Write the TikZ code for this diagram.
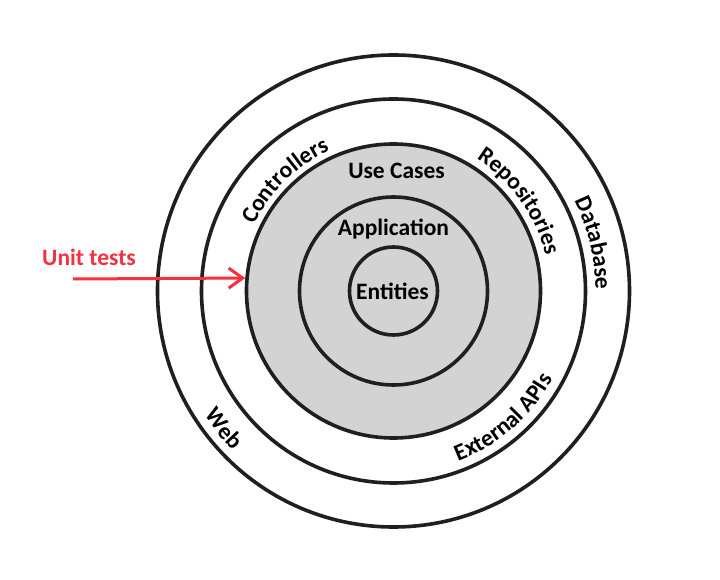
\documentclass[tikz,border=0pt]{standalone}
\usepackage{fontspec}
\setmainfont{Carlito}
\usepackage{xcolor}
\usepackage{tikz}
\usetikzlibrary{arrows.meta, decorations.text}

\definecolor{testred}{HTML}{F5303F}
\definecolor{coregray}{HTML}{D3D3D3}
\newcommand{\ringfont}{\fontsize{23.5}{26}\selectfont\bfseries}

\begin{document}
\begin{tikzpicture}[x=1pt, y=1pt,
  ring/.style={circle, draw=black!88, line width=3.6pt, inner sep=0pt},
  lbl/.style={font=\ringfont, inner sep=1pt},
  testarrow/.style={draw=testred, line width=3pt, -{Straight Barb[length=14pt, width=20pt]}}]
\useasboundingbox (-393.5,-289) rectangle (326.5,291);
% rings, outside in
\node[ring, fill=white, minimum size=472] (webring) at (0,0) {};
\node[ring, fill=white, minimum size=384] (adapterring) at (0,0) {};
\node[ring, fill=coregray, minimum size=294] (usecasering) at (0,0) {};
\node[ring, fill=coregray, minimum size=188] (appring) at (0,0) {};
\node[ring, fill=coregray, minimum size=88] (entityring) at (0,0) {};
% labels inside the core
\node[lbl] (usecases) at (3,120) {Use Cases};
\node[lbl] (application) at (0,62) {Application};
\node[lbl] (entities) at (-1,0) {Entities};
% labels bent along the rings
\path[decorate, decoration={text along path, text align=center,
  text={|\ringfont|Controllers}}] (170:154) arc[start angle=170, end angle=99, radius=154];
\path[decorate, decoration={text along path, text align=center,
  text={|\ringfont|Repositories}}] (70.5:156) arc[start angle=70.5, end angle=0.5, radius=156];
\path[decorate, decoration={text along path, text align=center,
  text={|\ringfont|Database}}] (43.5:202) arc[start angle=43.5, end angle=-16.5, radius=202];
\path[decorate, decoration={text along path, text align=center,
  text={|\ringfont|External APIs}}] (-84:182) arc[start angle=-84, end angle=-14, radius=182];
\path[decorate, decoration={text along path, text align=center,
  text={|\ringfont|Web}}] (189:226) arc[start angle=189, end angle=249, radius=226];
% unit tests
\node[lbl, text=testred] (unittests) at (-304.5,34) {Unit tests};
\coordinate (teststart) at (-320.5,12);
\draw[testarrow] (teststart) -- (usecasering.175);
\end{tikzpicture}
\end{document}
